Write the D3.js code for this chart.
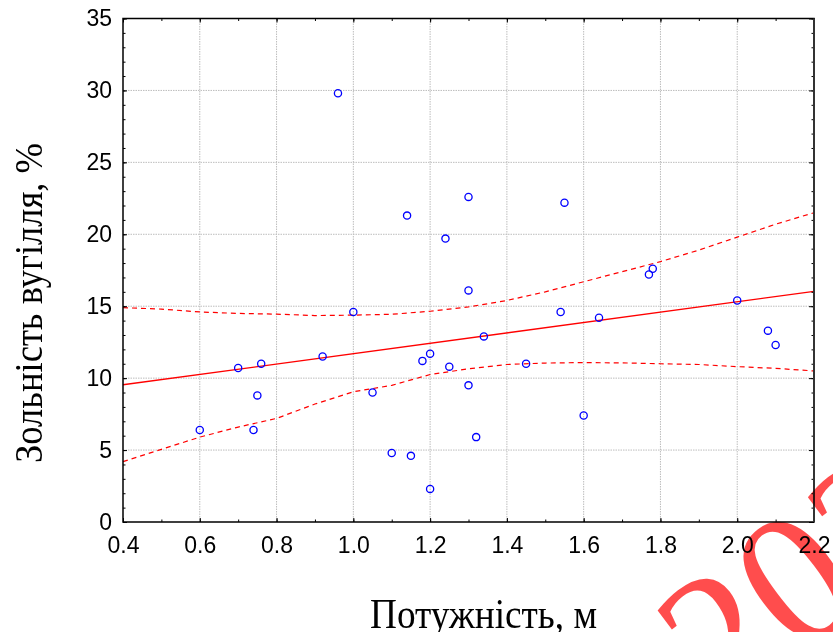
<!DOCTYPE html>
<html><head><meta charset="utf-8">
<script src="https://cdn.jsdelivr.net/npm/d3@7"></script>
<style>body{margin:0;background:#fff} svg{display:block}</style>
</head><body><svg id="c" width="833" height="632"></svg>
<script>
// ---- data ----
const pointX = [0.60,0.70,0.76,0.75,0.74,0.92,0.96,1.00,1.05,1.10,1.14,1.15,1.18,1.20,1.20,1.24,1.25,1.30,1.30,1.30,1.32,1.34,1.45,1.54,1.55,1.60,1.64,1.77,1.78,2.00,2.08,2.10];
const pointY = [6.4,10.7,11.0,8.8,6.4,11.5,29.8,14.6,9.0,4.8,21.3,4.6,11.2,11.7,2.3,19.7,10.8,22.6,16.1,9.5,5.9,12.9,11.0,14.6,22.2,7.4,14.2,17.2,17.6,15.4,13.3,12.3];
const fitX = [0.4, 2.2];
const fitY = [9.54, 16.03];
const bandX = [0.4,0.5,0.6,0.7,0.8,0.9,1.0,1.1,1.2,1.3,1.4,1.5,1.6,1.7,1.8,1.9,2.0,2.1,2.2];
const bandUpper = [14.9,14.8,14.6,14.5,14.45,14.35,14.38,14.44,14.65,14.95,15.4,16.0,16.7,17.4,18.1,18.9,19.8,20.7,21.5];
const bandLower = [4.2,5.05,5.9,6.6,7.2,8.2,9.05,9.5,10.25,10.65,10.95,11.05,11.08,11.06,11.0,10.95,10.8,10.68,10.5];
const xTicks = [0.4,0.6,0.8,1.0,1.2,1.4,1.6,1.8,2.0,2.2];
const yTicks = [0,5,10,15,20,25,30,35];
const xMinorTicks = d3.range(4,23).map(d => d/10);
const yMinorTicks = d3.range(0,36);
const xTitle = "Потужність, м";
const yTitle = "Зольність вугілля, %";
const watermark = "2023";

// ---- layout ----
const L = 123, R = 814, T = 18.5, B = 522;
const svg = d3.select("#c");
const x = d3.scaleLinear().domain([0.4, 2.2]).range([L, R]);
const y = d3.scaleLinear().domain([0, 35]).range([B, T]);

// grid
const grid = svg.append("g").attr("stroke", "#bdbdbd").attr("stroke-width", 1).attr("stroke-dasharray", "1.5,1");
grid.selectAll("line.v").data(xTicks.slice(1, -1)).join("line")
  .attr("x1", d => x(d)).attr("x2", d => x(d)).attr("y1", T).attr("y2", B);
grid.selectAll("line.h").data(yTicks.slice(1, -1)).join("line")
  .attr("y1", d => y(d)).attr("y2", d => y(d)).attr("x1", L).attr("x2", R);

// confidence bands & fit
const line = d3.line().x(d => x(d[0])).y(d => y(d[1]));
svg.append("path").datum(bandX.map((v, i) => [v, bandUpper[i]]))
  .attr("d", line).attr("fill", "none").attr("stroke", "#ff0000").attr("stroke-width", 1.2).attr("stroke-dasharray", "5,4");
svg.append("path").datum(bandX.map((v, i) => [v, bandLower[i]]))
  .attr("d", line).attr("fill", "none").attr("stroke", "#ff0000").attr("stroke-width", 1.2).attr("stroke-dasharray", "5,4");
svg.append("path").datum(fitX.map((v, i) => [v, fitY[i]]))
  .attr("d", line).attr("fill", "none").attr("stroke", "#ff0000").attr("stroke-width", 1.3);

// points
svg.append("g").selectAll("circle").data(pointX.map((v, i) => [v, pointY[i]])).join("circle")
  .attr("cx", d => x(d[0])).attr("cy", d => y(d[1])).attr("r", 3.6)
  .attr("fill", "none").attr("stroke", "#0000ff").attr("stroke-width", 1.3);

// axes
const fontSans = "'Liberation Sans', Arial, sans-serif";
function style(g) {
  g.selectAll(".domain").remove();
  g.selectAll("line").attr("stroke", "#000").attr("stroke-width", 1);
  g.selectAll("text").attr("font-family", fontSans).attr("font-size", 23).attr("fill", "#000");
}
svg.append("g").attr("transform", `translate(0,${B})`)
  .call(d3.axisBottom(x).tickValues(xTicks).tickSize(-4).tickPadding(15).tickFormat(d3.format(".1f"))).call(style);
svg.append("g").attr("transform", `translate(0,${B})`)
  .call(d3.axisBottom(x).tickValues(xMinorTicks).tickSize(-2.5).tickFormat("")).call(style);
svg.append("g").attr("transform", `translate(${L},0)`)
  .call(d3.axisLeft(y).tickValues(yTicks).tickSize(-4).tickPadding(11).tickFormat(d3.format("d"))).call(style);
svg.append("g").attr("transform", `translate(${L},0)`)
  .call(d3.axisLeft(y).tickValues(yMinorTicks).tickSize(-2.5).tickFormat("")).call(style);
svg.append("g").attr("transform", `translate(0,${T})`)
  .call(d3.axisTop(x).tickValues(xTicks).tickSize(-4).tickFormat("")).call(style);
svg.append("g").attr("transform", `translate(0,${T})`)
  .call(d3.axisTop(x).tickValues(xMinorTicks).tickSize(-2.5).tickFormat("")).call(style);
svg.append("g").attr("transform", `translate(${R},0)`)
  .call(d3.axisRight(y).tickValues(yTicks).tickSize(-5).tickFormat("")).call(style);
svg.append("g").attr("transform", `translate(${R},0)`)
  .call(d3.axisRight(y).tickValues(yMinorTicks).tickSize(-2.5).tickFormat("")).call(style);

// frame
svg.append("path").attr("d", `M${L},${T}H${R}V${B}H${L}Z`)
  .attr("fill", "none").attr("stroke", "#000").attr("stroke-width", 1.5);
svg.append("line").attr("x1", R).attr("x2", R).attr("y1", T).attr("y2", B)
  .attr("stroke", "#333").attr("stroke-width", 2);

// titles
const fontSerif = "'Liberation Serif', 'Times New Roman', serif";
svg.append("text").attr("x", 370).attr("y", 628).text(xTitle)
  .attr("font-family", fontSerif).attr("font-size", 42).attr("fill", "#000")
  .attr("textLength", 227).attr("lengthAdjust", "spacingAndGlyphs");
svg.append("text").attr("transform", "translate(42,303) rotate(-90)").attr("text-anchor", "middle").text(yTitle)
  .attr("font-family", fontSerif).attr("font-size", 41).attr("fill", "#000")
  .attr("textLength", 320).attr("lengthAdjust", "spacingAndGlyphs");

// watermark
svg.append("text").attr("transform", "translate(832,550) rotate(-37)")
  .attr("text-anchor", "middle").attr("dy", "0.34em").text(watermark)
  .attr("font-family", fontSerif).attr("font-size", 188)
  .attr("fill", "#ff3a3a").attr("fill-opacity", 0.9).style("mix-blend-mode", "multiply");
</script></body></html>
